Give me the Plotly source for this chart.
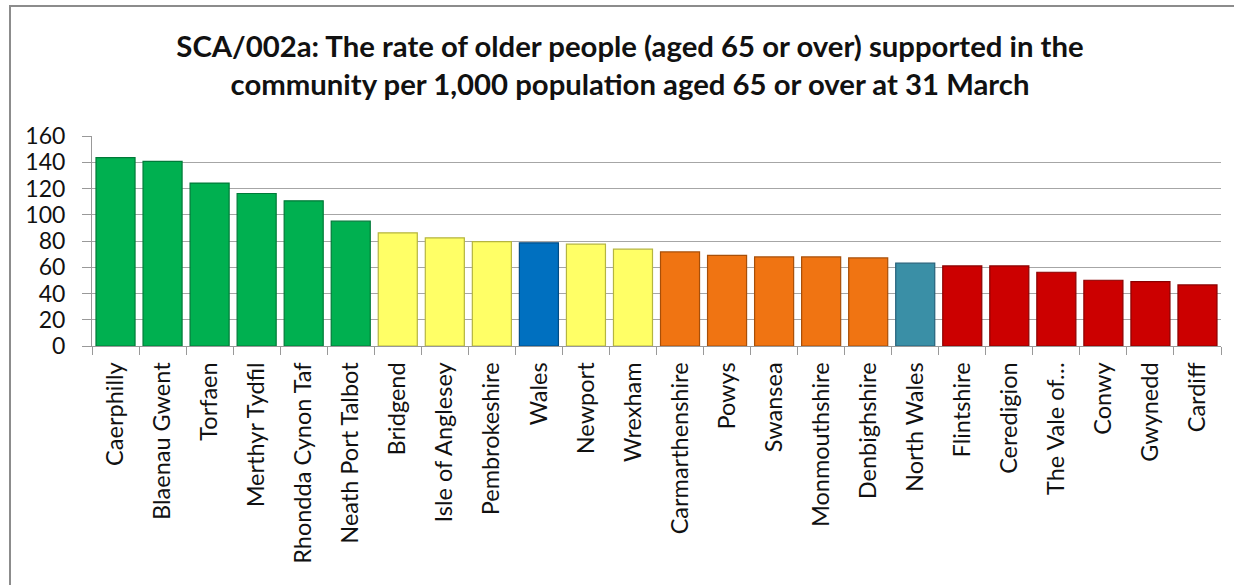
import plotly.graph_objects as go

categories = ["Caerphilly", "Blaenau Gwent", "Torfaen", "Merthyr Tydfil", "Rhondda Cynon Taf",
              "Neath Port Talbot", "Bridgend", "Isle of Anglesey", "Pembrokeshire", "Wales",
              "Newport", "Wrexham", "Carmarthenshire", "Powys", "Swansea", "Monmouthshire",
              "Denbighshire", "North Wales", "Flintshire", "Ceredigion", "The Vale of…",
              "Conwy", "Gwynedd", "Cardiff"]
values = [143.5, 140.6, 124.1, 116.2, 110.6, 95.1, 86.2, 82.4, 79.6, 78.6, 77.6, 73.8,
          71.7, 69.0, 67.9, 67.9, 67.1, 63.1, 61.0, 61.0, 56.2, 50.1, 49.1, 46.5]
groups = ["g"] * 6 + ["y"] * 3 + ["b"] + ["y"] * 2 + ["o"] * 5 + ["t"] + ["r"] * 6

fill = {"g": "#00B050", "y": "#FFFF66", "b": "#0070C0", "o": "#F07412", "t": "#3A8FA6", "r": "#CC0000"}
edge = {"g": "#007A38", "y": "#B5B540", "b": "#004C85", "o": "#A84F08", "t": "#25617A", "r": "#8A0000"}

W, H = 1234, 585
L, R, T, B = 92, 13, 136, 239

fig = go.Figure()
fig.add_trace(go.Bar(
    x=categories, y=values,
    marker=dict(color=[fill[g] for g in groups],
                line=dict(color=[edge[g] for g in groups], width=1.2)),
    hoverinfo="x+y",
))

pw = W - L - R
ph = H - T - B
def px_x(p):
    return (p - L) / pw
def px_y(p):
    return (H - B - p) / ph

fig.update_layout(
    width=W, height=H,
    margin=dict(l=L, r=R, t=T, b=B),
    paper_bgcolor="white", plot_bgcolor="white",
    bargap=0.17,
    showlegend=False,
    font=dict(family="Lato, Open Sans, sans-serif", color="#222"),
    title=dict(
        text="SCA/002a: The rate of older people (aged 65 or over) supported in the<br>community per 1,000 population aged 65 or over at 31 March",
        x=630 / W, xref="container", xanchor="center",
        y=1 - 57 / H, yref="container", yanchor="middle",
        font=dict(family="Lato, Open Sans, sans-serif", size=29.3, color="#111", weight="bold"),
    ),
    xaxis=dict(
        type="category", tickangle=-90, tickson="boundaries",
        ticks="outside", ticklen=8, tickcolor="#999", tickwidth=1,
        ticklabelstandoff=6,
        showline=True, linecolor="#999", linewidth=1,
        showgrid=False,
        tickfont=dict(size=23.5, color="#111"),
        range=[-0.5, len(categories) - 0.5],
    ),
    yaxis=dict(
        range=[0, 160], dtick=20,
        ticks="outside", ticklen=9, tickcolor="#999",
        ticklabelstandoff=12,
        showline=True, linecolor="#999", linewidth=1,
        showgrid=True, gridcolor="#A6A6A6", gridwidth=1.2,
        tickfont=dict(size=23, color="#111"),
        zeroline=False,
    ),
    shapes=[dict(type="rect", xref="paper", yref="paper",
                 x0=px_x(10), x1=px_x(1250), y0=px_y(600), y1=px_y(6),
                 line=dict(color="#8C8C8C", width=2), fillcolor="rgba(0,0,0,0)", layer="below")],
)

fig.write_html("out.html")
